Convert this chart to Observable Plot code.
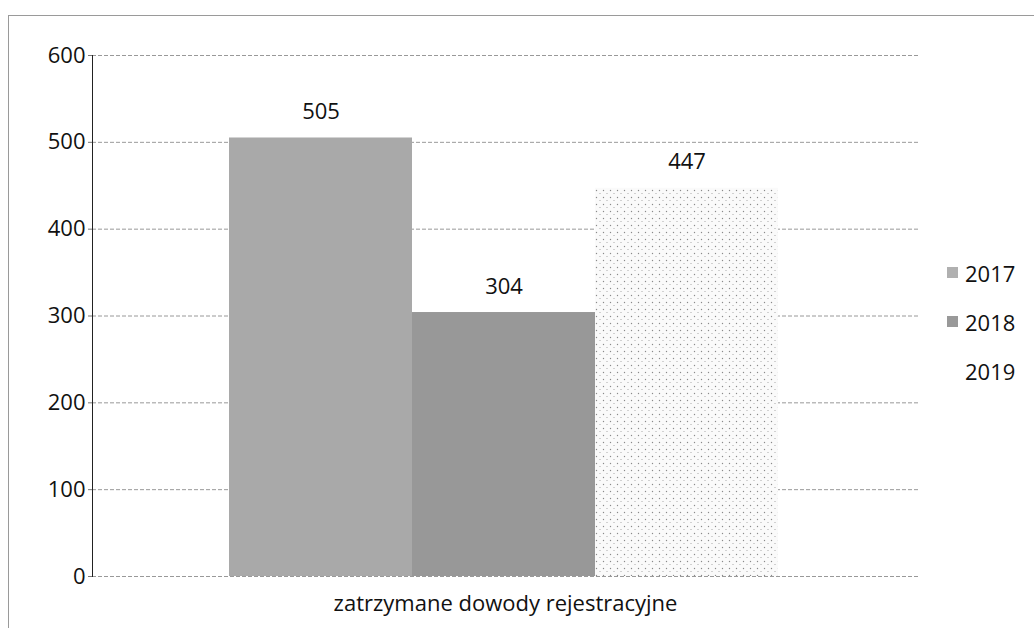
<!DOCTYPE html>
<html>
<head>
<meta charset="utf-8">
<script src="https://cdn.jsdelivr.net/npm/d3@7"></script>
<script src="https://cdn.jsdelivr.net/npm/@observablehq/plot@0.6"></script>
<style>
  html, body { margin: 0; padding: 0; background: #fff; }
  #wrap { position: relative; width: 1034px; height: 628px; overflow: hidden; font-family: "Open Sans", sans-serif; }
  #frame { position: absolute; left: 8px; top: 15px; width: 1040px; height: 640px; border-left: 1px solid #9a9a9a; border-top: 1px solid #9a9a9a; box-sizing: border-box; }
  #chart { position: absolute; left: 0; top: 0; }
  #legend { position: absolute; left: 947px; top: 248px; font-size: 22px; color: #111; }
  #legend .item { display: flex; align-items: center; height: 49px; }
  #legend .sw { width: 11px; height: 11px; margin-right: 7px; }
</style>
</head>
<body>
<div id="wrap">
  <div id="frame"></div>
  <div id="chart"></div>
  <div id="legend"></div>
</div>
<script>
const categories = ["zatrzymane dowody rejestracyjne"];
const years = ["2017", "2018", "2019"];
const values = [505, 304, 447];
const yTicks = [0, 100, 200, 300, 400, 500, 600];
const colors = ["#a9a9a9", "#989898", "url(#dots2019)"];
const legendColors = ["#b0b0b0", "#999999", "transparent"];

const data = years.map((y, i) => ({category: categories[0], year: y, value: values[i]}));

const chart = Plot.plot({
  width: 1034,
  height: 628,
  marginLeft: 92,
  marginRight: 116,
  marginTop: 55,
  marginBottom: 52,
  style: {fontFamily: "Open Sans, sans-serif", fontSize: "22px", color: "#111", background: "transparent"},
  fx: {domain: categories, padding: 0, label: null, axis: null},
  x: {domain: years, insetLeft: 136, insetRight: 140, padding: 0, axis: null},
  y: {domain: [0, 600], ticks: yTicks, label: null},
  color: {domain: years, range: colors},
  marks: [
    Plot.gridY(yTicks, {stroke: "#777", strokeOpacity: 0.75, strokeDasharray: "4,2"}),
    Plot.barY(data, {fx: "category", x: "year", y: "value", fill: "year"}),
    Plot.text(data, {fx: "category", x: "year", y: "value", text: d => String(d.value), dy: -26, fontSize: 22, fill: "#111"}),
    Plot.axisY(yTicks, {tickSize: 4, tickPadding: 3, stroke: "#777", fontSize: 22, fill: "#111"}),
    Plot.frame({anchor: "left", stroke: "#222"}),
    Plot.text(categories, {fx: d => d, frameAnchor: "bottom", text: d => d, dy: 34, fontSize: 22, fill: "#111"})
  ]
});

// dotted pattern for 2019
const ns = "http://www.w3.org/2000/svg";
const defs = document.createElementNS(ns, "defs");
defs.innerHTML = `<pattern id="dots2019" width="7" height="7" patternUnits="userSpaceOnUse">
  <rect width="7" height="7" fill="#fafafa"/>
  <circle cx="1.5" cy="1.5" r="0.7" fill="#8a8a8a"/>
  <circle cx="5" cy="4.5" r="0.6" fill="#a0a0a0"/>
</pattern>`;
chart.insertBefore(defs, chart.firstChild);

document.getElementById("chart").appendChild(chart);

const legend = document.getElementById("legend");
years.forEach((y, i) => {
  const item = document.createElement("div");
  item.className = "item";
  const sw = document.createElement("span");
  sw.className = "sw";
  sw.style.background = legendColors[i];
  const lab = document.createElement("span");
  lab.textContent = y;
  item.appendChild(sw);
  item.appendChild(lab);
  legend.appendChild(item);
});
</script>
</body>
</html>
